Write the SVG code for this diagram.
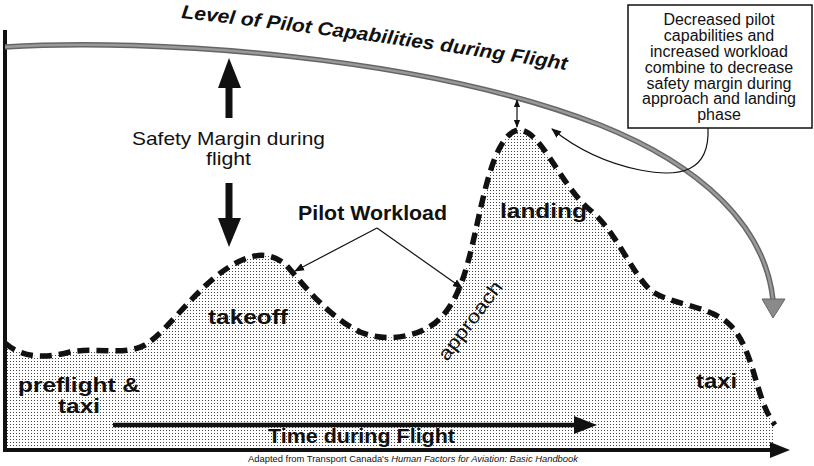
<svg xmlns="http://www.w3.org/2000/svg" width="814" height="466" viewBox="0 0 814 466">
<style>
text{font-family:"Liberation Sans",Arial,sans-serif;fill:#111}
.lbl{font-size:20px;font-weight:bold}
.reg{font-size:19px}
.call{font-size:16px;text-anchor:middle}
.thin{fill:none;stroke:#111;stroke-width:1.2}
.dash{fill:none;stroke:#111;stroke-width:5.5;stroke-dasharray:12 7}
</style>
<defs>
<pattern id="dots" width="3" height="3" patternUnits="userSpaceOnUse"><rect width="3" height="3" fill="#fff"/><rect x="1" y="1" width="1" height="1" fill="#444"/></pattern>
<marker id="ah" viewBox="0 0 10 10" refX="9" refY="5" markerWidth="10" markerHeight="10" markerUnits="userSpaceOnUse" orient="auto-start-reverse"><path d="M0,1 L10,5 L0,9 Z" fill="#111"/></marker>
<marker id="ahs" viewBox="0 0 10 10" refX="9" refY="5" markerWidth="8" markerHeight="8" markerUnits="userSpaceOnUse" orient="auto-start-reverse"><path d="M0,1 L10,5 L0,9 Z" fill="#111"/></marker>
<path id="titlePath" d="M181,18 Q380,40 578,72"/>
</defs>
<rect width="814" height="466" fill="#fff"/>

<g id="workload-area">
<path d="M5,343 C20,356 40,360 70,352 C95,347 125,356 145,345 C170,330 200,280 240,261 C255,254 270,252 285,264 C300,280 325,315 360,332 C385,342 415,338 435,323 C460,303 468,265 478,220 C488,175 498,135 518,130 C540,128 560,185 590,210 C615,230 630,270 650,290 C670,305 710,305 730,325 C755,350 755,400 775,425 L775,450 L5,450 Z" fill="url(#dots)"/>
<path class="dash" d="M5,343 C20,356 40,360 70,352 C95,347 125,356 145,345 C170,330 200,280 240,261 C255,254 270,252 285,264 C300,280 325,315 360,332 C385,342 415,338 435,323 C460,303 468,265 478,220 C488,175 498,135 518,130 C540,128 560,185 590,210 C615,230 630,270 650,290 C670,305 710,305 730,325 C755,350 755,400 775,425"/>
</g>

<g id="axes">
<line x1="5" y1="30" x2="5" y2="452" stroke="#111" stroke-width="4"/>
<line x1="3" y1="450" x2="775" y2="450" stroke="#111" stroke-width="4"/>
<polygon points="770,442 790,450 770,458" fill="#111"/>
</g>

<g id="capability-curve">
<path d="M5,47 C150,38 420,55 600,125 C700,165 765,225 773,300" fill="none" stroke="#666" stroke-width="5.5"/>
<path d="M5,47 C150,38 420,55 600,125 C700,165 765,225 773,300" fill="none" stroke="#9a9a9a" stroke-width="2.5"/>
<polygon points="762,299 785,299 773,318" fill="#8a8a8a" stroke="#666" stroke-width="1"/>
<text font-size="19" font-weight="bold" font-style="italic"><textPath href="#titlePath" textLength="389" lengthAdjust="spacingAndGlyphs">Level of Pilot Capabilities during Flight</textPath></text>
</g>

<g id="safety-margin">
<rect x="225.5" y="87" width="7" height="31" fill="#111"/>
<polygon points="218,88 229,58 241,88" fill="#111"/>
<rect x="225.5" y="183" width="7" height="36" fill="#111"/>
<polygon points="218,218 241,218 229,247" fill="#111"/>
<text class="reg" x="132" y="145" font-size="18" textLength="193" lengthAdjust="spacingAndGlyphs">Safety Margin during</text>
<text class="reg" x="206" y="165" font-size="18" textLength="45" lengthAdjust="spacingAndGlyphs">flight</text>
</g>

<g id="time-axis">
<line x1="113" y1="425" x2="578" y2="425" stroke="#111" stroke-width="4.5"/>
<polygon points="574,416 597,425 574,434" fill="#111"/>
<text class="lbl" x="268" y="443" font-size="19" textLength="187" lengthAdjust="spacingAndGlyphs">Time during Flight</text>
</g>

<g id="phase-labels">
<text class="lbl" x="18" y="392" textLength="122" lengthAdjust="spacingAndGlyphs">preflight &amp;</text>
<text class="lbl" x="58" y="413" textLength="42" lengthAdjust="spacingAndGlyphs">taxi</text>
<text class="lbl" x="208" y="324" textLength="80" lengthAdjust="spacingAndGlyphs">takeoff</text>
<text class="lbl" x="500" y="218" textLength="87" lengthAdjust="spacingAndGlyphs">landing</text>
<text class="lbl" x="696" y="388" textLength="41" lengthAdjust="spacingAndGlyphs">taxi</text>
<text class="reg" x="0" y="0" transform="translate(447,362) rotate(-53)" textLength="94" lengthAdjust="spacingAndGlyphs">approach</text>
</g>

<g id="pilot-workload">
<text class="lbl" x="298" y="220" font-size="19" textLength="149" lengthAdjust="spacingAndGlyphs">Pilot Workload</text>
</g>

<g id="callout">
<rect x="628" y="5" width="184" height="123" fill="#fff" stroke="#111" stroke-width="1.5"/>
<text class="call" x="719" y="25">Decreased pilot</text>
<text class="call" x="719" y="41">capabilities and</text>
<text class="call" x="719" y="57">increased workload</text>
<text class="call" x="719" y="73">combine to decrease</text>
<text class="call" x="719" y="88.5">safety margin during</text>
<text class="call" x="719" y="104">approach and landing</text>
<text class="call" x="719" y="120">phase</text>
</g>

<g id="connectors">
<path class="thin" d="M377,228 L295,271" marker-end="url(#ah)"/>
<path class="thin" d="M377,228 L462,288" marker-end="url(#ah)"/>
<path class="thin" d="M708,128 C710,172 680,178 640,170 C605,163 578,150 552,129" stroke-width="1.5" marker-end="url(#ah)"/>
<path class="thin" d="M517,100 L517,127" stroke-width="1.5" marker-start="url(#ahs)" marker-end="url(#ahs)"/>
</g>

<g id="caption">
<text x="248" y="462" font-size="9" textLength="330" lengthAdjust="spacingAndGlyphs">Adapted from Transport Canada's <tspan font-style="italic">Human Factors for Aviation: Basic Handbook</tspan></text>
</g>
</svg>
